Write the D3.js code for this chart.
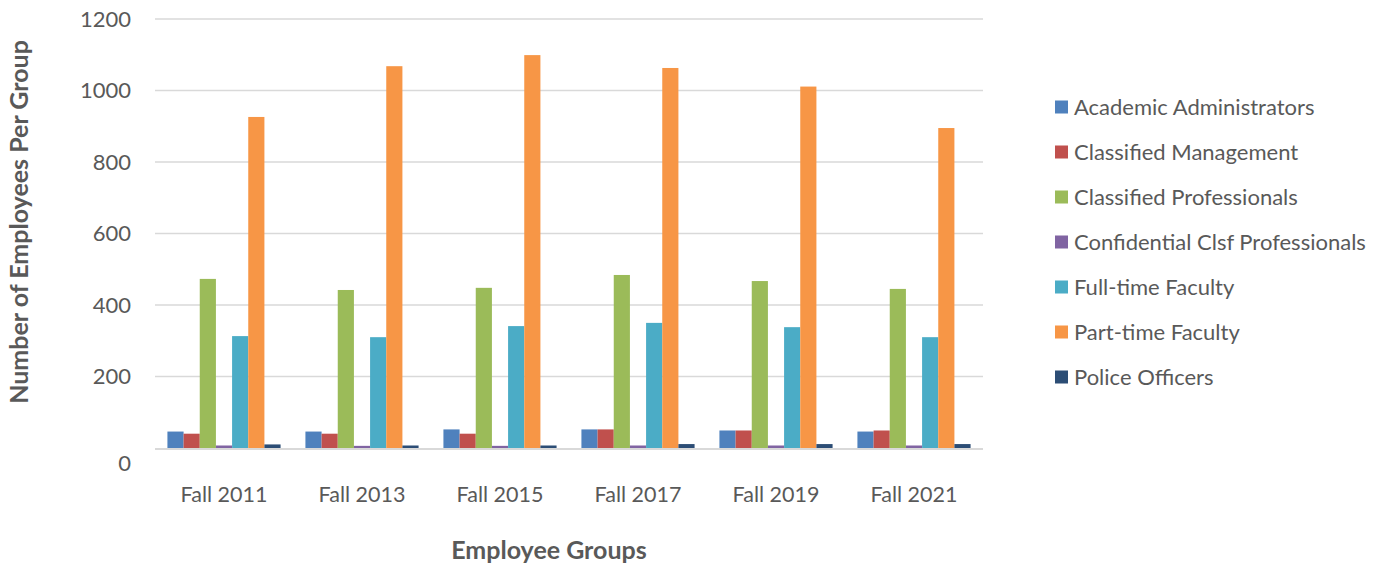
<!DOCTYPE html>
<html><head><meta charset="utf-8">
<script src="https://cdn.jsdelivr.net/npm/d3@7"></script>
<style>
body{margin:0;background:#fff;}
svg text{font-family:"Lato","Open Sans",sans-serif;fill:#595959;}
</style></head>
<body>
<svg id="c" width="1382" height="565"></svg>
<script>
const categories = ["Fall 2011","Fall 2013","Fall 2015","Fall 2017","Fall 2019","Fall 2021"];
const seriesNames = ["Academic Administrators","Classified Management","Classified Professionals","Confidential Clsf Professionals","Full-time Faculty","Part-time Faculty","Police Officers"];
const academicAdmins = [46, 46, 52, 52, 49, 46];
const classifiedMgmt = [40, 40, 40, 52, 49, 49];
const classifiedProf = [473, 442, 448, 484, 467, 445];
const confidentialProf = [7, 6, 6, 7, 7, 7];
const fullTimeFaculty = [313, 310, 341, 350, 338, 310];
const partTimeFaculty = [926, 1068, 1099, 1063, 1011, 895];
const policeOfficers = [10, 7, 7, 11, 11, 11];
const yTicks = [0, 200, 400, 600, 800, 1000, 1200];
const colors = ["#4f81bd","#c0504d","#9bbb59","#8064a2","#4bacc6","#f79646","#2c4d75"];
const seriesValues = [academicAdmins, classifiedMgmt, classifiedProf, confidentialProf, fullTimeFaculty, partTimeFaculty, policeOfficers];

const svg = d3.select("#c");
const pLeft = 155, pRight = 983, pTop = 19, pBottom = 448;

const y = d3.scaleLinear().domain([0, 1200]).range([pBottom, pTop]);
const x0 = d3.scaleBand().domain(categories).range([pLeft, pRight]).paddingInner(0.18).paddingOuter(0.09);
const x1 = d3.scaleBand().domain(seriesNames).range([0, x0.bandwidth()]);

// gridlines
svg.append("g").selectAll("line").data(yTicks.filter(d => d > 0)).join("line")
  .attr("x1", pLeft).attr("x2", pRight)
  .attr("y1", d => y(d)).attr("y2", d => y(d))
  .attr("stroke", "#d9d9d9").attr("stroke-width", 1.5);

// bars
const groups = svg.append("g").selectAll("g").data(categories).join("g")
  .attr("transform", c => `translate(${x0(c)},0)`);
groups.selectAll("rect").data((c, i) => seriesNames.map((s, j) => ({s, j, v: seriesValues[j][i]}))).join("rect")
  .attr("x", d => x1(d.s)).attr("width", x1.bandwidth())
  .attr("y", d => y(d.v)).attr("height", d => pBottom - y(d.v))
  .attr("fill", d => colors[d.j]);

// baseline
svg.append("line").attr("x1", pLeft).attr("x2", pRight).attr("y1", pBottom + 1).attr("y2", pBottom + 1)
  .attr("stroke", "#d9d9d9").attr("stroke-width", 2);

// y axis
const yAxis = svg.append("g").attr("transform", `translate(${pLeft},0)`)
  .call(d3.axisLeft(y).tickValues(yTicks).tickFormat(d3.format("d")).tickSize(0).tickPadding(24));
yAxis.select(".domain").remove();
yAxis.selectAll("text").attr("font-size", 22).style("font-family", "Lato, 'Open Sans', sans-serif").attr("fill", "#595959")
  .attr("dy", d => d === 0 ? "1.0em" : "0.33em");

// x axis
const xAxis = svg.append("g").attr("transform", `translate(0,${pBottom})`)
  .call(d3.axisBottom(x0).tickSize(0).tickPadding(39));
xAxis.select(".domain").remove();
xAxis.selectAll("text").attr("font-size", 21.5).style("font-family", "Lato, 'Open Sans', sans-serif").attr("fill", "#595959");

// titles
svg.append("text").attr("x", 549).attr("y", 559).attr("text-anchor", "middle")
  .attr("font-size", 25).attr("font-weight", "bold").text("Employee Groups");
svg.append("text").attr("transform", "translate(28,222) rotate(-90)").attr("text-anchor", "middle")
  .attr("font-size", 25).attr("font-weight", "bold").text("Number of Employees Per Group");

// legend
const lg = svg.append("g").selectAll("g").data(seriesNames).join("g")
  .attr("transform", (d, i) => `translate(1055,${107 + i * 45})`);
lg.append("rect").attr("x", 0).attr("y", -6.5).attr("width", 13).attr("height", 13)
  .attr("fill", (d, i) => colors[i]);
lg.append("text").attr("x", 19).attr("y", 0).attr("dy", "0.35em").attr("font-size", 22).text(d => d);
</script>
</body></html>
